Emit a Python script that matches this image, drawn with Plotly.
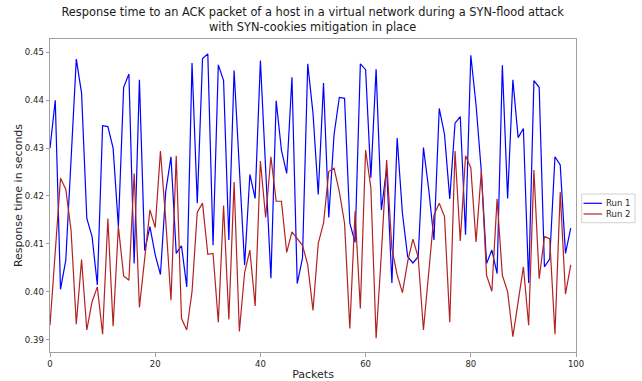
import plotly.graph_objects as go

# ACK response times (seconds) per packet for two runs of the experiment
packets = list(range(100))

run1 = [0.430, 0.440, 0.4005, 0.4066, 0.4275, 0.4486, 0.4415, 0.4153, 0.4115, 0.4014,
        0.4347, 0.4345, 0.430, 0.4136, 0.4427, 0.4455, 0.4059, 0.4443, 0.4086, 0.4136,
        0.4077, 0.4036, 0.4209, 0.4282, 0.408, 0.4096, 0.401, 0.4478, 0.4185, 0.4487,
        0.4497, 0.4097, 0.4474, 0.4441, 0.4108, 0.4462, 0.4258, 0.4056, 0.4245, 0.4195,
        0.4483, 0.4254, 0.4028, 0.4399, 0.4296, 0.4247, 0.4448, 0.4017, 0.407, 0.4476,
        0.4373, 0.4203, 0.4436, 0.4155, 0.4328, 0.4406, 0.4404, 0.4143, 0.4103, 0.4476,
        0.4464, 0.4238, 0.4465, 0.4171, 0.4258, 0.4018, 0.4321, 0.4164, 0.4073, 0.406,
        0.4073, 0.4301, 0.4214, 0.4108, 0.4383, 0.4329, 0.4194, 0.4352, 0.4366, 0.4119,
        0.4494, 0.439, 0.4251, 0.4059, 0.4087, 0.4038, 0.4473, 0.4195, 0.4443, 0.4322,
        0.4341, 0.4018, 0.4441, 0.4427, 0.4052, 0.4068, 0.4282, 0.4265, 0.408, 0.4133]

run2 = [0.393, 0.408, 0.4237, 0.4214, 0.4129, 0.3932, 0.4067, 0.392, 0.3979, 0.401,
        0.3911, 0.4153, 0.3928, 0.4136, 0.4033, 0.4024, 0.4247, 0.3967, 0.407, 0.4171,
        0.4134, 0.4294, 0.415, 0.3982, 0.4284, 0.3944, 0.392, 0.400, 0.4166, 0.4185,
        0.4078, 0.408, 0.3936, 0.418, 0.3942, 0.4229, 0.3917, 0.404, 0.4087, 0.397,
        0.4273, 0.4155, 0.4282, 0.4189, 0.4189, 0.4082, 0.4125, 0.411, 0.4097, 0.4056,
        0.3961, 0.4101, 0.4143, 0.4251, 0.4258, 0.4209, 0.4143, 0.3923, 0.4168, 0.3965,
        0.4296, 0.4217, 0.3903, 0.408, 0.4275, 0.409, 0.4035, 0.3998, 0.4063, 0.411,
        0.4072, 0.392, 0.4034, 0.416, 0.4185, 0.4157, 0.3936, 0.4294, 0.4106, 0.4284,
        0.4259, 0.4104, 0.4252, 0.4034, 0.4001, 0.4194, 0.4034, 0.400, 0.3906, 0.3982,
        0.4052, 0.393, 0.4254, 0.4027, 0.4115, 0.4111, 0.3911, 0.4208, 0.3995, 0.4056]

series_names = ["Run 1", "Run 2"]
series_colors = ["#0000ff", "#b22222"]

title_text = ("Response time to an ACK packet of a host in a virtual network during a SYN-flood attack"
              "<br>with SYN-cookies mitigation in place")
x_title = "Packets"
y_title = "Response time in seconds"
y_ticks = [0.39, 0.40, 0.41, 0.42, 0.43, 0.44, 0.45]
x_ticks = [0, 20, 40, 60, 80, 100]

FONT = "DejaVu Sans"
FRAME = "#a0a0a0"
TEXT = "#262626"

fig = go.Figure()
for name, ys, color in zip(series_names, [run1, run2], series_colors):
    fig.add_trace(go.Scatter(x=packets, y=ys, mode="lines", name=name,
                             line=dict(color=color, width=1.2), showlegend=False))

# Compact legend box to the right of the axes (paper coordinates)
legend_box = dict(x0=1.0108, x1=1.1122, y0=0.4131, y1=0.5048)
legend_rows_y = [0.4751, 0.4409]
fig.add_shape(type="rect", xref="paper", yref="paper", line=dict(color="#d0d0d0", width=1),
              fillcolor="white", layer="above", **legend_box)
for name, color, ry in zip(series_names, series_colors, legend_rows_y):
    fig.add_shape(type="line", xref="paper", yref="paper", x0=1.0143, x1=1.0494, y0=ry, y1=ry,
                  line=dict(color=color, width=1.2), layer="above")
    fig.add_annotation(xref="paper", yref="paper", x=1.0550, y=ry, text=name,
                       showarrow=False, xanchor="left", yanchor="middle", borderpad=0,
                       font=dict(family=FONT, size=8.5, color=TEXT))

axis_common = dict(showgrid=False, zeroline=False, showline=True, mirror=True,
                   linecolor=FRAME, linewidth=1, ticks="outside", ticklen=3.5,
                   tickcolor=FRAME, tickwidth=1,
                   tickfont=dict(family=FONT, size=8.5, color=TEXT))

fig.update_layout(
    width=642, height=381,
    margin=dict(l=50, r=66, t=39, b=29, autoexpand=False),
    paper_bgcolor="white", plot_bgcolor="white",
    font=dict(family=FONT, color=TEXT),
    showlegend=False,
    title=dict(text=title_text, x=0.487, xanchor="center",
               yref="container", y=0.958, yanchor="top",
               font=dict(family=FONT, size=11.4, color="#1a1a1a")),
    xaxis=dict(range=[0, 100], tickvals=x_ticks,
               title=dict(text=x_title, font=dict(family=FONT, size=11), standoff=11),
               **axis_common),
    yaxis=dict(range=[0.3874, 0.4528], tickvals=y_ticks, tickformat=".2f",
               title=dict(text=y_title, font=dict(family=FONT, size=11), standoff=0),
               **axis_common),
)

fig.write_html("out.html")
